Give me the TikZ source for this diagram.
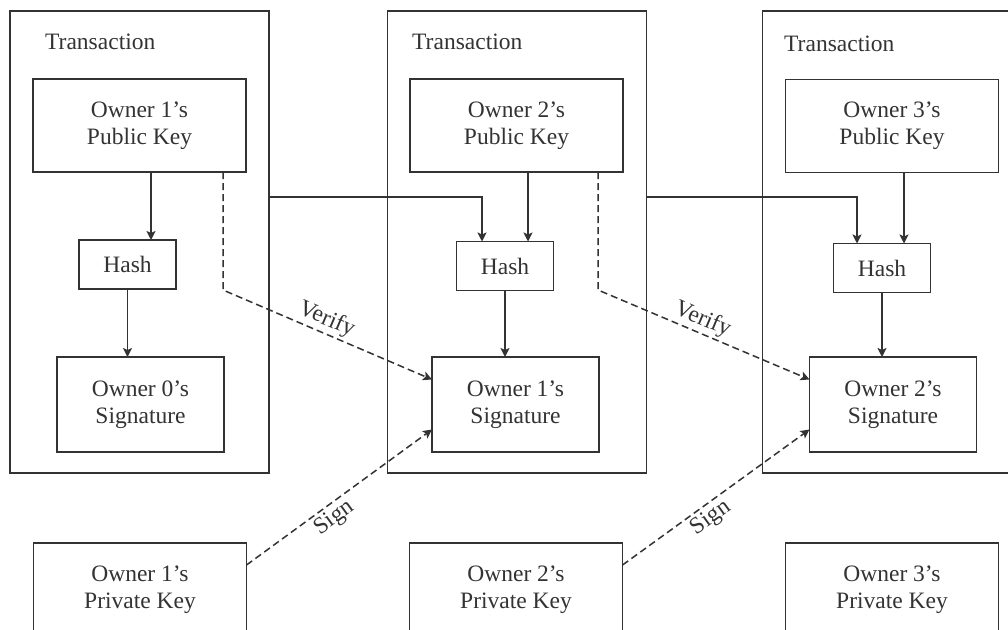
\documentclass[tikz,border=0pt]{standalone}
\usepackage{fontspec}
\setmainfont{Liberation Serif}
\usetikzlibrary{arrows.meta,calc}
\definecolor{ink}{HTML}{333333}
\begin{document}
\begin{tikzpicture}[x=1pt,y=-1pt,
  txt/.style={text=ink, font=\fontsize{23.5}{27}\selectfont},
  box/.style={txt, draw=ink, line width=1.8pt, rectangle, inner sep=0pt, outer sep=0pt, align=center},
  txbox/.style={box, minimum width=259pt, minimum height=462pt},
  keybox/.style={box, minimum width=213pt, minimum height=93pt},
  sigbox/.style={box, minimum width=167pt, minimum height=95pt},
  hashbox/.style={box, minimum width=97pt, minimum height=49pt},
  lbl/.style={txt, inner sep=0pt},
  arr/.style={draw=ink, line width=1.8pt, -{Stealth[length=9pt,width=9pt,inset=2pt]}},
  darr/.style={arr, line width=1.5pt, dash pattern=on 7pt off 4pt},
  edgelbl/.style={txt, sloped, inner sep=2pt}
]
\fill[white] (0,0) rectangle (1008,629);
\clip (0,0) rectangle (1008,629);
\useasboundingbox (0,0) rectangle (1008,629);

% transaction boxes
\node[txbox] (tx1) at (139.5,242) {};
\node[txbox] (tx2) at (517,242) {};
\node[txbox] (tx3) at (892,242) {};
\node[lbl, anchor=west] (tl1) at (45,42) {Transaction};
\node[lbl, anchor=west] (tl2) at (412,42) {Transaction};
\node[lbl, anchor=west] (tl3) at (784,44) {Transaction};

% public keys
\node[keybox] (pk1) at (139.5,125.5) {Owner 1's\\Public Key};
\node[keybox] (pk2) at (516.5,125.5) {Owner 2's\\Public Key};
\node[keybox] (pk3) at (892,126) {Owner 3's\\Public Key};

% hashes
\node[hashbox] (h1) at (127.5,264.5) {Hash};
\node[hashbox] (h2) at (505,266) {Hash};
\node[hashbox] (h3) at (882,268) {Hash};

% signatures
\node[sigbox] (s1) at (140.5,404.5) {Owner 0's\\Signature};
\node[sigbox] (s2) at (515.5,404.5) {Owner 1's\\Signature};
\node[sigbox] (s3) at (893,404.5) {Owner 2's\\Signature};

% private keys
\node[keybox, minimum height=94pt] (pr1) at (140,590) {Owner 1's\\Private Key};
\node[keybox, minimum height=94pt] (pr2) at (516,590) {Owner 2's\\Private Key};
\node[keybox, minimum height=94pt] (pr3) at (892,590) {Owner 3's\\Private Key};

% solid arrows inside transactions
\draw[arr] ([xshift=11.5pt]pk1.south) -- ([xshift=11.5pt]pk1.south |- h1.north);
\draw[arr] ([xshift=11.5pt]pk2.south) -- ([xshift=11.5pt]pk2.south |- h2.north);
\draw[arr] ([xshift=12pt]pk3.south) -- ([xshift=12pt]pk3.south |- h3.north);
\draw[arr] (h1.south) -- (h1.south |- s1.north);
\draw[arr] (h2.south) -- (h2.south |- s2.north);
\draw[arr] (h3.south) -- (h3.south |- s3.north);

% previous transaction into hash
\draw[arr] ($(tx1.east)+(0,-45)$) -| ([xshift=-23pt]h2.north);
\draw[arr] ($(tx2.east)+(0,-45)$) -| ([xshift=-25pt]h3.north);

% verify
\draw[darr] ([xshift=-23pt]pk1.south east) -- ++(0,118)
  -- node[edgelbl, above, pos=0.47] {Verify} ([yshift=25pt]s2.west);
\draw[darr] ([xshift=-25pt]pk2.south east) -- ++(0,118)
  -- node[edgelbl, above, pos=0.47] {Verify} ([yshift=25pt]s3.west);

% sign
\draw[darr] ([yshift=25pt]pr1.east) -- node[edgelbl, below, pos=0.43, inner sep=3pt] {Sign} ([yshift=-25pt]s2.west);
\draw[darr] ([yshift=25pt]pr2.east) -- node[edgelbl, below, pos=0.43, inner sep=3pt] {Sign} ([yshift=-25pt]s3.west);
\end{tikzpicture}
\end{document}
